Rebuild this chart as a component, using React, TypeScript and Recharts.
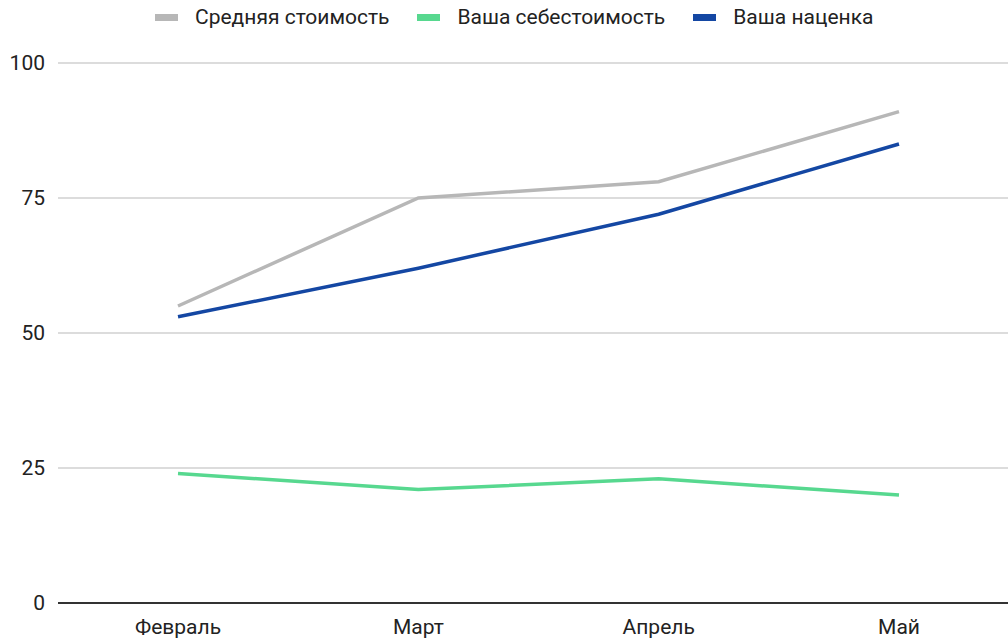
import React from 'react';
import { LineChart, Line, XAxis, YAxis, CartesianGrid } from 'recharts';

const months = ['Февраль', 'Март', 'Апрель', 'Май'];
const avgCost = [55, 75, 78, 91];
const ownCost = [24, 21, 23, 20];
const markup = [53, 62, 72, 85];
const yTicks = [0, 25, 50, 75, 100];

const series = [
  { key: 'avg', name: 'Средняя стоимость', color: '#b7b7b7' },
  { key: 'own', name: 'Ваша себестоимость', color: '#57d88f' },
  { key: 'markup', name: 'Ваша наценка', color: '#1447a3' },
];

const data = months.map((m, i) => ({
  month: m,
  avg: avgCost[i],
  own: ownCost[i],
  markup: markup[i],
}));

const FONT = 'Roboto, "Liberation Sans", Arial, sans-serif';

const App: React.FC = () => {
  return (
    <div style={{ position: 'absolute', left: 0, top: 0, width: 1008, height: 638, overflow: 'hidden', background: '#fff' }}>
      <div
        style={{
          position: 'absolute',
          top: 4,
          left: 155,
          display: 'flex',
          gap: 28,
          fontFamily: FONT,
          fontSize: 21,
          lineHeight: '26px',
          color: '#222',
          whiteSpace: 'nowrap',
        }}
      >
        {series.map((s) => (
          <div key={s.key} style={{ display: 'flex', alignItems: 'center' }}>
            <span style={{ display: 'inline-block', width: 23, height: 7, background: s.color, marginRight: 17 }} />
            <span>{s.name}</span>
          </div>
        ))}
      </div>
      <LineChart width={1020} height={638} data={data} margin={{ top: 63, right: 1, left: 0, bottom: 5 }}>
        <CartesianGrid vertical={false} stroke="#d0d0d0" strokeWidth={1.5} />
        <XAxis
          dataKey="month"
          height={30}
          padding={{ left: 120, right: 120 }}
          axisLine={{ stroke: '#333', strokeWidth: 2 }}
          tickLine={false}
          tickMargin={10}
          tick={{ fill: '#222', fontSize: 21, fontFamily: FONT }}
        />
        <YAxis
          width={58}
          domain={[0, 100]}
          ticks={yTicks}
          axisLine={false}
          tickLine={false}
          tickMargin={7}
          tick={{ fill: '#222', fontSize: 21, fontFamily: FONT }}
        />
        {series.map((s) => (
          <Line
            key={s.key}
            type="linear"
            dataKey={s.key}
            name={s.name}
            stroke={s.color}
            strokeWidth={3.5}
            dot={false}
            isAnimationActive={false}
          />
        ))}
      </LineChart>
    </div>
  );
};

export default App;
